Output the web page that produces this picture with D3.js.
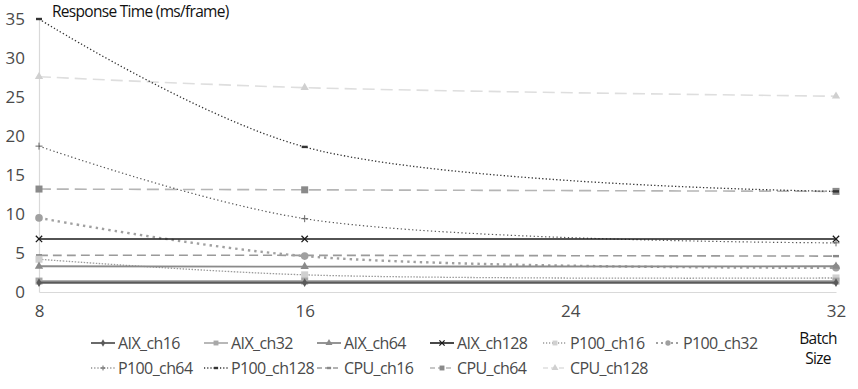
<!DOCTYPE html>
<html><head><meta charset="utf-8">
<script src="https://cdn.jsdelivr.net/npm/d3@7"></script>
<style>
body{margin:0;background:#fff;}
text{font-family:"Open Sans","Noto Sans",sans-serif;}
</style></head>
<body><svg id="c" width="858" height="389"></svg>
<script>
const batchSizes = [8, 16, 32];
const xTicks = [8, 16, 24, 32];
const yTicks = [0, 5, 10, 15, 20, 25, 30, 35];
const seriesNames = ["AIX_ch16","AIX_ch32","AIX_ch64","AIX_ch128","P100_ch16","P100_ch32","P100_ch64","P100_ch128","CPU_ch16","CPU_ch64","CPU_ch128"];
const AIX_ch16 = [1.2, 1.2, 1.2];
const AIX_ch32 = [1.4, 1.4, 1.4];
const AIX_ch64 = [3.3, 3.25, 3.3];
const AIX_ch128 = [6.8, 6.8, 6.8];
const P100_ch16 = [4.2, 2.2, 1.8];
const P100_ch32 = [9.5, 4.6, 3.1];
const P100_ch64 = [18.7, 9.4, 6.3];
const P100_ch128 = [35.0, 18.6, 12.9];
const CPU_ch16 = [4.7, 4.7, 4.6];
const CPU_ch64 = [13.2, 13.1, 12.9];
const CPU_ch128 = [27.6, 26.2, 25.1];
const seriesValues = [AIX_ch16,AIX_ch32,AIX_ch64,AIX_ch128,P100_ch16,P100_ch32,P100_ch64,P100_ch128,CPU_ch16,CPU_ch64,CPU_ch128];

const styles = {
  AIX_ch16:  {color:"#5a5a5a", width:2.2, dash:null, ldash:null, marker:"diamond", mcolor:"#5a5a5a", smooth:false},
  AIX_ch32:  {color:"#b0b0b0", width:2.2, dash:null, ldash:null, marker:"square", mcolor:"#a8a8a8", smooth:false},
  AIX_ch64:  {color:"#8a8a8a", width:1.8, dash:null, ldash:null, marker:"triangle", mcolor:"#8a8a8a", smooth:false},
  AIX_ch128: {color:"#1a1a1a", width:1.6, dash:null, ldash:null, marker:"x", mcolor:"#1a1a1a", smooth:false},
  P100_ch16: {color:"#9a9a9a", width:1.3, dash:"1.5,1.5", ldash:"1.2,1.8", marker:"square", mcolor:"#d0d0d0", smooth:true},
  P100_ch32: {color:"#a0a0a0", width:2.4, dash:"2.4,4", ldash:"2,3", marker:"circle", mcolor:"#a0a0a0", smooth:true},
  P100_ch64: {color:"#555555", width:1.2, dash:"1.3,2.5", ldash:"1.2,2", marker:"plus", mcolor:"#666666", smooth:true},
  P100_ch128:{color:"#333333", width:1.3, dash:"1.3,2.2", ldash:"1.2,2", marker:"dash", mcolor:"#333333", smooth:true},
  CPU_ch16:  {color:"#9a9a9a", width:1.6, dash:"9,5", ldash:"5,3", marker:"dash", mcolor:"#888888", smooth:true},
  CPU_ch64:  {color:"#b5b5b5", width:1.6, dash:"12,6", ldash:"5,3", marker:"square", mcolor:"#8a8a8a", smooth:true},
  CPU_ch128: {color:"#dedede", width:1.6, dash:"12,6", ldash:"5,3", marker:"triangle", mcolor:"#d0d0d0", smooth:true}
};

const svg = d3.select("#c");
const x = d3.scaleLinear().domain([8, 32]).range([39, 836]);
const y = d3.scaleLinear().domain([0, 35]).range([292, 19]);

const xAxis = svg.append("g").attr("transform", "translate(0,292)")
  .call(d3.axisBottom(x).tickValues(xTicks).tickSize(0).tickPadding(13).tickFormat(d3.format("d")));
xAxis.select(".domain").attr("stroke", "#d9d9d9").attr("stroke-width", 1.2);
xAxis.selectAll("text").attr("fill", "#4a4a4a").style("font-size", "17px");

const yAxis = svg.append("g").attr("transform", "translate(39,0)")
  .call(d3.axisLeft(y).tickValues(yTicks).tickSize(0).tickPadding(14));
yAxis.select(".domain").attr("stroke", "#d9d9d9").attr("stroke-width", 1.2);
yAxis.selectAll("text").attr("fill", "#4a4a4a").style("font-size", "17px");

const lblStyle = sel => sel.attr("fill", "#111").style("font-size", "15.5px").style("letter-spacing", "-0.7px");
lblStyle(svg.append("text").attr("x", 52).attr("y", 17).text("Response Time (ms/frame)"));
lblStyle(svg.append("text").attr("x", 818).attr("y", 344).attr("text-anchor", "middle").text("Batch"));
lblStyle(svg.append("text").attr("x", 818).attr("y", 364).attr("text-anchor", "middle").text("Size"));

function marker(g, type, cx, cy, col, s) {
  s = s || 1;
  if (type === "diamond") g.append("path").attr("d", d3.symbol(d3.symbolDiamond, 22*s)()).attr("transform", `translate(${cx},${cy})`).attr("fill", col);
  else if (type === "square") g.append("rect").attr("x", cx-3.5*s).attr("y", cy-3.5*s).attr("width", 7*s).attr("height", 7*s).attr("fill", col);
  else if (type === "triangle") g.append("path").attr("d", d3.symbol(d3.symbolTriangle, 30*s)()).attr("transform", `translate(${cx},${cy})`).attr("fill", col);
  else if (type === "circle") g.append("circle").attr("cx", cx).attr("cy", cy).attr("r", 3.8*s).attr("fill", col);
  else if (type === "x") g.append("path").attr("d", d3.symbol(d3.symbolX, 28*s)()).attr("transform", `translate(${cx},${cy})`).attr("stroke", col).attr("stroke-width", 1.3).attr("fill", "none");
  else if (type === "plus") {
    const r = 3.5*s;
    g.append("path").attr("d", `M${cx-r},${cy}H${cx+r}M${cx},${cy-r}V${cy+r}`).attr("stroke", col).attr("stroke-width", 1).attr("fill", "none");
  }
  else if (type === "dash") g.append("rect").attr("x", cx-3*s).attr("y", cy-1.2).attr("width", 6*s).attr("height", 2.4).attr("fill", col);
}

const order = [10,9,8,4,5,6,7,1,2,0,3];
order.forEach(i => {
  const name = seriesNames[i], st = styles[name], vals = seriesValues[i];
  const pts = batchSizes.map((b, j) => [b, vals[j]]);
  const line = d3.line().x(d => x(d[0])).y(d => y(d[1]))
    .curve(st.smooth ? d3.curveCatmullRom.alpha(0.5) : d3.curveLinear);
  const g = svg.append("g");
  g.append("path").datum(pts).attr("d", line).attr("fill", "none")
    .attr("stroke", st.color).attr("stroke-width", st.width)
    .attr("stroke-dasharray", st.dash);
  pts.forEach(p => marker(g, st.marker, x(p[0]), y(p[1]), st.mcolor, 1));
});

const legX0 = 91, legDX = 113, legY0 = 343, legDY = 25;
seriesNames.forEach((name, i) => {
  const st = styles[name];
  const col = i % 6, row = Math.floor(i / 6);
  const lx = legX0 + col * legDX, ly = legY0 + row * legDY;
  const g = svg.append("g");
  g.append("line").attr("x1", lx).attr("x2", lx + 24).attr("y1", ly).attr("y2", ly)
    .attr("stroke", st.color).attr("stroke-width", Math.min(st.width, 1.8))
    .attr("stroke-dasharray", st.ldash);
  marker(g, st.marker, lx + 12, ly, st.mcolor, 0.7);
  g.append("text").attr("x", lx + 27).attr("y", ly + 6).text(name)
    .attr("fill", "#4a4a4a").style("font-size", "16px").style("letter-spacing", "-0.6px");
});
</script></body></html>
